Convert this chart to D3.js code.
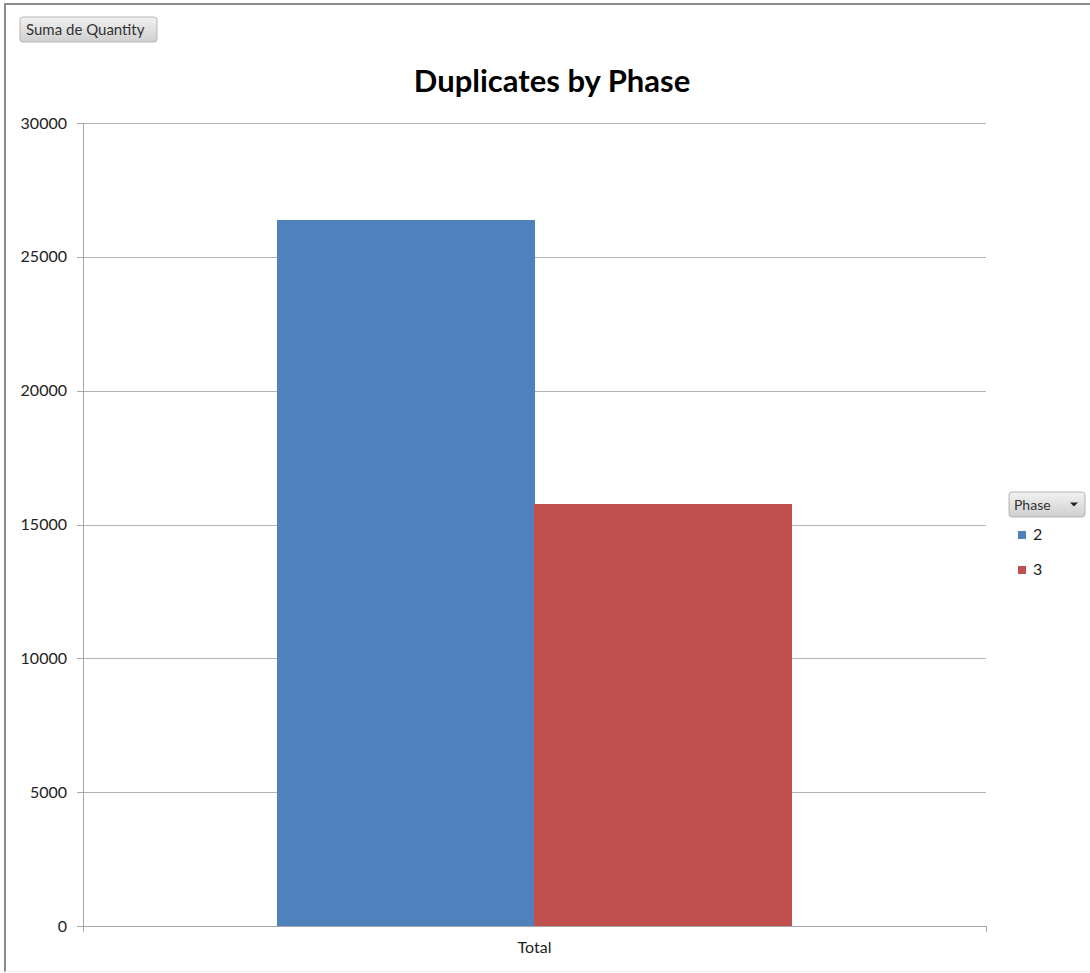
<!DOCTYPE html>
<html>
<head>
  <meta charset="utf-8" />
  <title>Duplicates by Phase</title>
  <script src="https://d3js.org/d3.v7.min.js"></script>
  <style>
    body { margin: 0; background: #fff; }
    .axis text { font-family: Lato, "Open Sans", sans-serif; font-size: 16px; fill: #222; }
    .axis path, .axis line { stroke: #a6a6a6; shape-rendering: crispEdges; }
    .grid line { stroke: #b3b3b3; shape-rendering: crispEdges; }
  </style>
</head>
<body>
  <div id="chart"></div>
  <script>
    // data
    var categories = ["Total"];
    var phases = ["2", "3"];
    var phase2 = [26370];
    var phase3 = [15770];
    var yTicks = [0, 5000, 10000, 15000, 20000, 25000, 30000];
    var colors = ["#4f81bd", "#c0504d"];

    var W = 1090, H = 973;
    var margin = { top: 123, right: 104, bottom: 47, left: 83 };
    var width = W - margin.left - margin.right,
      height = H - margin.top - margin.bottom;

    var svg = d3.select("#chart").append("svg")
      .attr("width", W)
      .attr("height", H);

    // frame
    svg.append("line").attr("x1", 4).attr("x2", W).attr("y1", 4).attr("y2", 4)
      .attr("stroke", "#8c8c8c").attr("stroke-width", 2);
    svg.append("line").attr("x1", 5).attr("x2", 5).attr("y1", 4).attr("y2", 972)
      .attr("stroke", "#8c8c8c").attr("stroke-width", 2);
    svg.append("line").attr("x1", 5).attr("x2", W).attr("y1", 971.5).attr("y2", 971.5)
      .attr("stroke", "#eeeeee").attr("stroke-width", 1);

    var defs = svg.append("defs");
    var grad = defs.append("linearGradient").attr("id", "btn").attr("x1", 0).attr("x2", 0).attr("y1", 0).attr("y2", 1);
    grad.append("stop").attr("offset", "0%").attr("stop-color", "#f2f2f2");
    grad.append("stop").attr("offset", "100%").attr("stop-color", "#cfcfcf");

    // field button
    var btn = svg.append("g").attr("transform", "translate(20,17)");
    btn.append("rect").attr("width", 137).attr("height", 25).attr("rx", 3)
      .attr("fill", "url(#btn)").attr("stroke", "#b5b5b5");
    btn.append("text").attr("x", 6).attr("y", 18)
      .attr("font-family", "Lato, 'Open Sans', sans-serif").attr("font-size", 15)
      .attr("fill", "#333").text("Suma de Quantity");

    // title
    svg.append("text")
      .attr("x", 552).attr("y", 92)
      .attr("text-anchor", "middle")
      .attr("font-family", "Lato, 'Open Sans', sans-serif")
      .attr("font-weight", "bold")
      .attr("font-size", 31)
      .attr("fill", "#000")
      .text("Duplicates by Phase");

    var g = svg.append("g").attr("transform", "translate(" + margin.left + "," + margin.top + ")");

    var x0 = d3.scaleBand().domain(categories).range([0, width]).paddingInner(0).paddingOuter(0);
    var y = d3.scaleLinear().domain([0, 30000]).range([height, 0]);

    // gridlines
    g.append("g").attr("class", "grid")
      .selectAll("line").data(yTicks.filter(function (d) { return d > 0; }))
      .enter().append("line")
      .attr("x1", -6).attr("x2", width)
      .attr("y1", function (d) { return Math.round(y(d)) + 0.5; })
      .attr("y2", function (d) { return Math.round(y(d)) + 0.5; });

    // bars
    var groupWidth = x0.bandwidth() * 0.57;
    var x1 = d3.scaleBand().domain(phases).range([0, groupWidth]).round(true);
    var series = [phase2, phase3];
    categories.forEach(function (c, i) {
      var gx = Math.round(x0(c) + (x0.bandwidth() - groupWidth) / 2);
      g.selectAll(".bar" + i).data(phases).enter().append("rect")
        .attr("x", function (p) { return gx + x1(p); })
        .attr("y", function (p, j) { return y(series[j][i]); })
        .attr("width", x1.bandwidth() + 0.5)
        .attr("height", function (p, j) { return height - y(series[j][i]); })
        .attr("fill", function (p, j) { return colors[j]; })
        .attr("shape-rendering", "crispEdges");
    });

    // axes
    var yAxis = d3.axisLeft(y).tickValues(yTicks).tickSize(6).tickPadding(10).tickFormat(d3.format("d"));
    g.append("g").attr("class", "axis").call(yAxis)
      .call(function (s) { s.select(".domain").attr("d", "M0.5," + (height + 6) + "V0"); });

    var xAxis = d3.axisBottom(x0).tickSize(0).tickPadding(16);
    var xa = g.append("g").attr("class", "axis")
      .attr("transform", "translate(0," + height + ")").call(xAxis);
    xa.select(".domain").attr("d", "M0,0.5H" + width + ".5V6");

    // legend
    var lg = svg.append("g").attr("transform", "translate(1009,492)");
    lg.append("rect").attr("width", 76).attr("height", 25).attr("rx", 3)
      .attr("fill", "url(#btn)").attr("stroke", "#b5b5b5");
    lg.append("text").attr("x", 5).attr("y", 18)
      .attr("font-family", "Lato, 'Open Sans', sans-serif").attr("font-size", 14)
      .attr("fill", "#333").text("Phase");
    lg.append("path").attr("d", "M61,10.5h8l-4,4z").attr("fill", "#222");
    var items = lg.selectAll(".item").data(phases).enter().append("g")
      .attr("transform", function (d, i) { return "translate(9," + (39 + i * 35) + ")"; });
    items.append("rect").attr("width", 8).attr("height", 8)
      .attr("fill", function (d, i) { return colors[i]; });
    items.append("text").attr("x", 15).attr("y", 9)
      .attr("font-family", "Lato, 'Open Sans', sans-serif").attr("font-size", 16)
      .attr("fill", "#222").text(function (d) { return d; });
  </script>
</body>
</html>
